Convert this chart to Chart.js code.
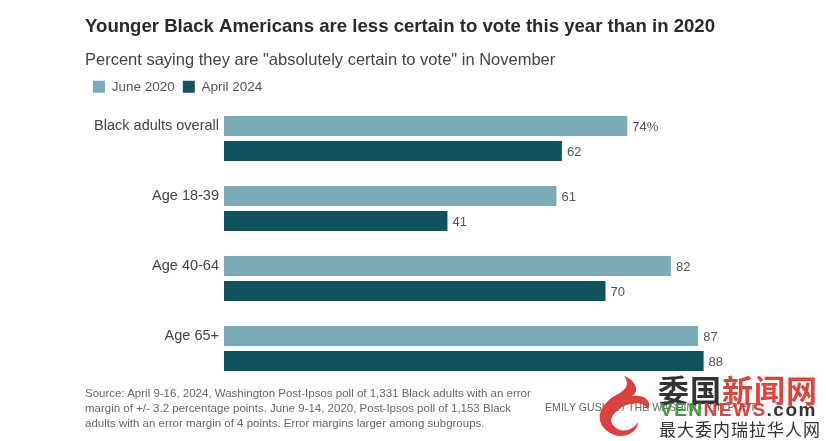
<!DOCTYPE html>
<html><head><meta charset="utf-8">
<script src="https://cdn.jsdelivr.net/npm/chart.js@4"></script>
<style>
html,body{margin:0;padding:0;background:#fff;width:826px;height:441px;overflow:hidden}
#wrap{position:relative;width:826px;height:441px}
canvas{position:absolute;left:0;top:0}
.t{position:absolute;white-space:nowrap}
#src{left:85px;top:385.5px;font:11.5px/15px "Liberation Sans Narrow","Liberation Sans",sans-serif;color:#666}
#cred{left:545px;top:400px;font:10.6px/14px "Liberation Sans Narrow",sans-serif;color:#666}
.wm{font-family:"Noto Sans CJK SC",sans-serif}
</style></head><body><div id="wrap">
<canvas id="c" width="826" height="441"></canvas>
<div class="t" id="src">Source: April 9-16, 2024, Washington Post-Ipsos poll of 1,331 Black adults with an error<br>margin of +/- 3.2 percentage points. June 9-14, 2020, Post-Ipsos poll of 1,153 Black<br>adults with an error margin of 4 points. Error margins larger among subgroups.</div>
<div class="t" id="cred">EMILY GUSKIN / THE WASHINGTON POST</div>
<svg style="position:absolute;left:590px;top:372px" width="70" height="66" viewBox="0 0 70 66"><path d="M22 62C2 52 8 32 28 22C36 18 40 12 34 4C46 8 50 20 42 24C56 22 62 30 58 38C54 30 44 30 34 34C20 42 16 52 30 58C38 60 44 56 48 50C48 60 34 68 22 62Z" fill="#d9423f"/></svg>
<div class="t wm" style="left:658px;top:372px;font-size:31px;font-weight:700;line-height:34px;letter-spacing:1px"><span style="color:#333">委国</span><span style="color:#e2413c">新闻网</span></div>
<div class="t" style="left:660px;top:400px;font:700 19px/20px 'Liberation Sans',sans-serif;letter-spacing:1.5px"><span style="color:#3f9a3c">VEN</span><span style="color:#e2413c">NEWS</span><span style="color:#333">.com</span></div>
<div class="t wm" style="left:659px;top:419px;font-size:17px;line-height:20px;color:#333;letter-spacing:1px">最大委内瑞拉华人网</div>
</div>
<script>
const categories = ["Black adults overall", "Age 18-39", "Age 40-64", "Age 65+"];
const june2020 = [74, 61, 82, 87];
const april2024 = [62, 41, 70, 88];
const seriesNames = ["June 2020", "April 2024"];
const titleText = "Younger Black Americans are less certain to vote this year than in 2020";
const subtitleText = 'Percent saying they are "absolutely certain to vote" in November';
const FONT = '"Liberation Sans", sans-serif';

const valueLabels = {
  id: 'valueLabels',
  afterDatasetsDraw(chart) {
    const ctx = chart.ctx;
    ctx.save();
    ctx.font = '13px ' + FONT;
    ctx.fillStyle = '#555';
    ctx.textBaseline = 'middle';
    ctx.textAlign = 'left';
    chart.data.datasets.forEach((ds, d) => {
      chart.getDatasetMeta(d).data.forEach((bar, i) => {
        const suffix = (d === 0 && i === 0) ? '%' : '';
        ctx.fillText(ds.data[i] + suffix, bar.x + 5, bar.y + 1);
      });
    });
    // category labels sit beside the first bar of each group
    ctx.font = '14.5px ' + FONT;
    ctx.fillStyle = '#444';
    ctx.textAlign = 'right';
    const first = chart.getDatasetMeta(0).data;
    chart.data.labels.forEach((l, i) => ctx.fillText(l, chart.chartArea.left - 5, first[i].y));
    ctx.restore();
  }
};

new Chart(document.getElementById('c'), {
  type: 'bar',
  data: {
    labels: categories,
    datasets: [
      { label: seriesNames[0], data: june2020, backgroundColor: '#79acb7', categoryPercentage: 50/70, barPercentage: 0.8 },
      { label: seriesNames[1], data: april2024, backgroundColor: '#0e535e', categoryPercentage: 50/70, barPercentage: 0.8 }
    ]
  },
  plugins: [valueLabels],
  options: {
    indexAxis: 'y',
    responsive: false,
    animation: false,
    devicePixelRatio: 1,
    layout: { padding: { left: 85, right: 57, top: 16, bottom: 57.5 } },
    scales: {
      x: { display: false, min: 0, max: 100 },
      y: {
        grid: { display: false }, border: { display: false },
        ticks: { display: false },
        afterFit(s) { s.width = 139; }
      }
    },
    plugins: {
      tooltip: { enabled: false },
      title: {
        display: true, text: titleText, align: 'start', color: '#2a2a2a',
        font: { family: FONT, size: 18.6, weight: 'bold' }, padding: { top: 0, bottom: 8 }
      },
      subtitle: {
        display: true, text: subtitleText, align: 'start', color: '#444',
        font: { family: FONT, size: 16.5, weight: 'normal' }, padding: { top: 4, bottom: 2 }
      },
      legend: {
        display: true, position: 'top', align: 'start', maxHeight: 32.5,
        labels: { boxWidth: 12, boxHeight: 12, color: '#555', padding: 8, font: { family: FONT, size: 13.5 } }
      }
    }
  }
});
</script></body></html>
